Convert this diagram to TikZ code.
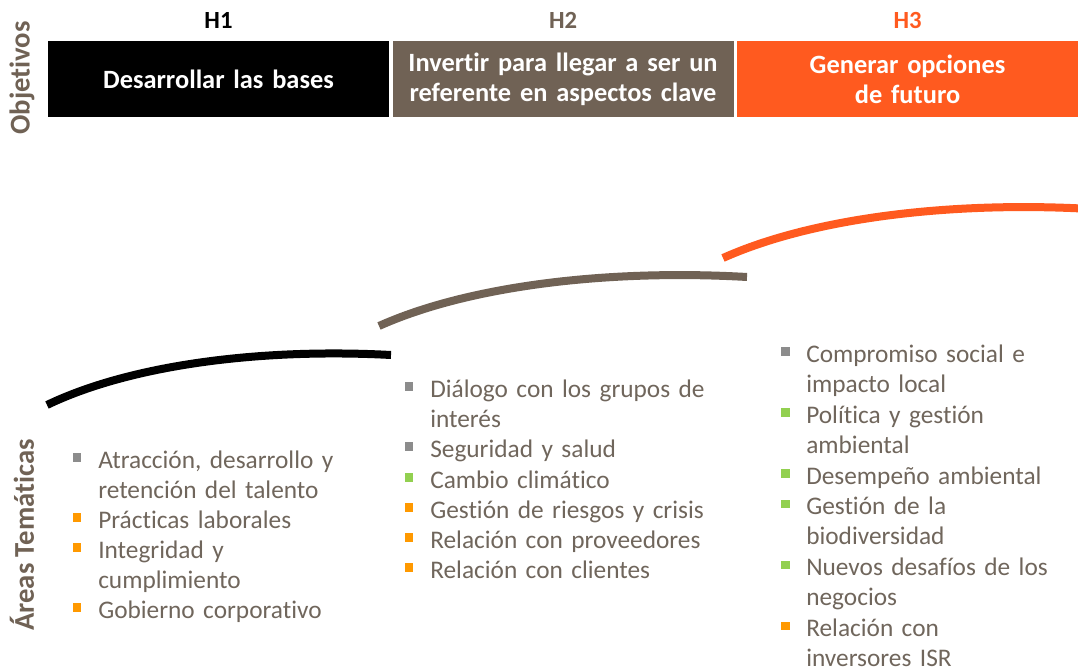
\documentclass[tikz,border=0pt]{standalone}
\usepackage{fontspec}
\setmainfont{Carlito}[Ligatures=NoCommon]
\usetikzlibrary{positioning}
\definecolor{hnegro}{RGB}{0,0,0}
\definecolor{hmarron}{RGB}{112,98,85}
\definecolor{hnaranja}{RGB}{255,90,31}
\definecolor{textomarron}{RGB}{112,102,92}
\definecolor{bulgris}{RGB}{140,140,140}
\definecolor{bulnaranja}{RGB}{255,153,0}
\definecolor{bulverde}{RGB}{146,208,80}

\begin{document}
\begin{tikzpicture}[x=0.75pt, y=-0.75pt, node distance=2.25pt]
    \tikzstyle{objbox} = [rectangle, minimum width=255.75pt, minimum height=57pt, text width=250pt, align=center, text=white, inner sep=0pt, font=\fontsize{19.8}{22.5}\selectfont\bfseries]
    \tikzstyle{hlabel} = [inner sep=0pt, font=\fontsize{18.5}{20}\selectfont\bfseries]
    \tikzstyle{sidelabel} = [rotate=90, inner sep=0pt, text=hmarron, font=\fontsize{21.5}{24}\selectfont\bfseries]
    \tikzstyle{item} = [anchor=base west, inner sep=0pt, text width=220pt, align=left, text=textomarron, font=\fontsize{19}{22.8}\selectfont]
    \tikzstyle{bul} = [rectangle, minimum size=6.4pt, inner sep=0pt]
    \tikzstyle{arco} = [line width=6pt, line cap=butt]

    \clip (0,0) rectangle (1078,670);
    \fill[white] (0,0) rectangle (1078,670);

    % objetivos
    \node [objbox, fill=hnegro] (obj1) at (218.5,79) {Desarrollar las bases};
    \node [objbox, fill=hmarron, right=of obj1] (obj2) {Invertir para llegar a ser un\\referente en aspectos clave};
    \node [objbox, fill=hnaranja, right=of obj2] (obj3) {Generar opciones\\de futuro};

    \node [hlabel, text=hnegro, above=9pt of obj1] (h1) {H1};
    \node [hlabel, text=hmarron, above=9pt of obj2] (h2) {H2};
    \node [hlabel, text=hnaranja, above=9pt of obj3] (h3) {H3};

    \node [sidelabel] (objetivos) at (22,78) {Objetivos};
    \node [sidelabel] (areas) at (22,535) {Áreas Temáticas};

    % arcos
    \coordinate (a1s) at (47,405);
    \coordinate (a1e) at (391,355);
    \coordinate (a2s) at (379,326);
    \coordinate (a2e) at (747,277);
    \coordinate (a3s) at (723,258);
    \coordinate (a3e) at (1091,209);
    \draw [arco, hnegro] (a1s) .. controls (130,365) and (260,348) .. (a1e);
    \draw [arco, hmarron] (a2s) .. controls (468,286) and (607,269) .. (a2e);
    \draw [arco, hnaranja] (a3s) .. controls (812,218) and (951,201) .. (a3e);

    % H1
    \node [item] (i11) at (98,468) {Atracción, desarrollo y\\retención del talento};
    \node [item] (i12) at (98,528) {Prácticas laborales};
    \node [item] (i13) at (98,558) {Integridad y\\cumplimiento};
    \node [item] (i14) at (98,618) {Gobierno corporativo};
    \node [bul, fill=bulgris] (b11) at ([xshift=-15.75pt, yshift=7.9pt]i11.base west) {};
    \node [bul, fill=bulnaranja] (b12) at ([xshift=-15.75pt, yshift=7.9pt]i12.base west) {};
    \node [bul, fill=bulnaranja] (b13) at ([xshift=-15.75pt, yshift=7.9pt]i13.base west) {};
    \node [bul, fill=bulnaranja] (b14) at ([xshift=-15.75pt, yshift=7.9pt]i14.base west) {};

    % H2
    \node [item] (i21) at (430,397) {Diálogo con los grupos de\\interés};
    \node [item] (i22) at (430,457) {Seguridad y salud};
    \node [item] (i23) at (430,488) {Cambio climático};
    \node [item] (i24) at (430,518) {Gestión de riesgos y crisis};
    \node [item] (i25) at (430,548) {Relación con proveedores};
    \node [item] (i26) at (430,578) {Relación con clientes};
    \node [bul, fill=bulgris] (b21) at ([xshift=-15.75pt, yshift=7.9pt]i21.base west) {};
    \node [bul, fill=bulgris] (b22) at ([xshift=-15.75pt, yshift=7.9pt]i22.base west) {};
    \node [bul, fill=bulverde] (b23) at ([xshift=-15.75pt, yshift=7.9pt]i23.base west) {};
    \node [bul, fill=bulnaranja] (b24) at ([xshift=-15.75pt, yshift=7.9pt]i24.base west) {};
    \node [bul, fill=bulnaranja] (b25) at ([xshift=-15.75pt, yshift=7.9pt]i25.base west) {};
    \node [bul, fill=bulnaranja] (b26) at ([xshift=-15.75pt, yshift=7.9pt]i26.base west) {};

    % H3
    \node [item] (i31) at (806,362) {Compromiso social e\\impacto local};
    \node [item] (i32) at (806,423) {Política y gestión\\ambiental};
    \node [item] (i33) at (806,484) {Desempeño ambiental};
    \node [item] (i34) at (806,514.5) {Gestión de la\\biodiversidad};
    \node [item] (i35) at (806,575.5) {Nuevos desafíos de los\\negocios};
    \node [item] (i36) at (806,636.5) {Relación con\\inversores ISR};
    \node [bul, fill=bulgris] (b31) at ([xshift=-15.4pt, yshift=7.9pt]i31.base west) {};
    \node [bul, fill=bulverde] (b32) at ([xshift=-15.4pt, yshift=7.9pt]i32.base west) {};
    \node [bul, fill=bulverde] (b33) at ([xshift=-15.4pt, yshift=7.9pt]i33.base west) {};
    \node [bul, fill=bulverde] (b34) at ([xshift=-15.4pt, yshift=7.9pt]i34.base west) {};
    \node [bul, fill=bulverde] (b35) at ([xshift=-15.4pt, yshift=7.9pt]i35.base west) {};
    \node [bul, fill=bulnaranja] (b36) at ([xshift=-15.4pt, yshift=7.9pt]i36.base west) {};
\end{tikzpicture}
\end{document}
